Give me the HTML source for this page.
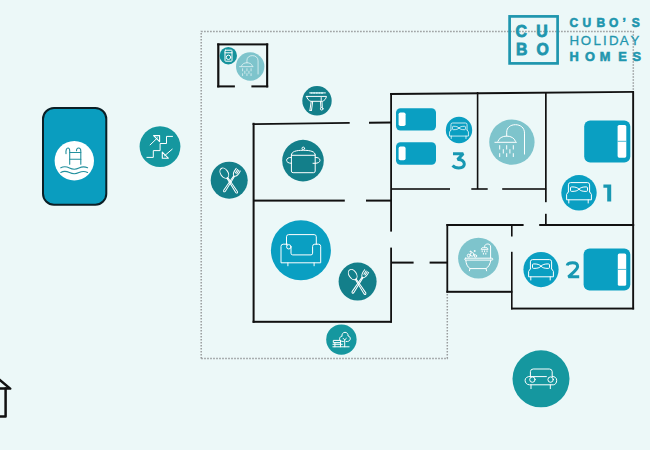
<!DOCTYPE html>
<html><head><meta charset="utf-8">
<style>
html,body{margin:0;padding:0;width:650px;height:450px;overflow:hidden;background:#ecf8f8;}
body{font-family:"Liberation Sans",sans-serif;position:relative;}
svg{position:absolute;left:0;top:0;}
.w{fill:#111;}
.ic{fill:none;stroke:#fff;stroke-width:1;stroke-linecap:round;stroke-linejoin:round;}
</style></head>
<body>
<svg width="650" height="450" viewBox="0 0 650 450">
 <defs>
 <g id="bedicon" class="ic" stroke-width="1">
  <path d="M-10.6 -0.8 V-7.8 Q-10.6 -10 -8.4 -10 H8.4 Q10.6 -10 10.6 -7.8 V-0.8"/>
  <path d="M0 -3.4 C-1.6 -5.2 -3.6 -5.7 -7.4 -5.7 Q-8.5 -5.7 -8.5 -4.6 V-2.3 Q-8.5 -1.2 -7.4 -1.2 C-3.6 -1.2 -1.6 -1.6 0 -3.4 Z"/>
  <path d="M0 -3.4 C1.6 -5.2 3.6 -5.7 7.4 -5.7 Q8.5 -5.7 8.5 -4.6 V-2.3 Q8.5 -1.2 7.4 -1.2 C3.6 -1.2 1.6 -1.6 0 -3.4 Z"/>
  <path d="M-10.6 -0.8 L-12.4 1.8 V7.2 H12.4 V1.8 L10.6 -0.8"/>
  <path d="M-10.2 7.2 V10.4 M9.2 7.2 V10.4"/>
 </g>
 <g id="shower" class="ic" stroke-width="1.1">
  <path d="M-5.2 -6 V-10 C-5.2 -14.5 -1.5 -17.4 3.5 -17.4 C8.5 -17.4 12.6 -14.5 12.6 -9 V12"/>
  <path d="M-14 -0.8 C-13 -4 -9.5 -6 -5.2 -6 C-0.9 -6 2.6 -4 3.6 -0.8"/>
  <path d="M-17 0.2 H4.5"/>
  <path d="M-12.2 3.5 V7 M-5.2 3.5 V7 M1.4 3.5 V7 M-8.6 7.5 V11 M-2 7.5 V11 M-12.2 11.5 V14.5 M-5.2 11.5 V14.5 M1.4 11.5 V14.5"/>
 </g>
 </defs>
 <!-- dotted outline -->
 <g fill="none" stroke="#9a9d9e" stroke-width="1.5" stroke-dasharray="1.6 1.4">
  <path d="M201.2 358.5 V31.4 H633.3 V92"/>
  <path d="M201.2 358.5 H447.3 V292"/>
 </g>

 <!-- walls -->
 <g class="w">
  <!-- small bathroom -->
  <rect x="217.2" y="43.4" width="51" height="2"/>
  <rect x="217.2" y="43.4" width="2.2" height="44"/>
  <rect x="266.1" y="43.4" width="2.1" height="44"/>
  <rect x="217.2" y="85.4" width="17.7" height="2"/>
  <rect x="251.4" y="85.4" width="16.8" height="2"/>
  <!-- kitchen block -->
  <polygon points="252.6,123.2 349.7,121.9 349.7,123.8 252.6,125.1"/>
  <polygon points="369,121.8 391.5,121.6 391.5,123.5 369,123.7"/>
  <rect x="252.6" y="122.8" width="2" height="200"/>
  <rect x="253" y="199.6" width="91.8" height="2"/>
  <rect x="366" y="199.6" width="25" height="2"/>
  <rect x="390.2" y="93" width="1.8" height="138.6"/>
  <rect x="390.2" y="247.6" width="1.8" height="75.1"/>
  <rect x="252.6" y="320.8" width="139.2" height="2"/>
  <!-- bedroom 3 / bath / bedroom 1 -->
  <polygon points="390.2,93 634,90.9 634,92.8 390.2,95"/>
  <rect x="476.8" y="92" width="1.6" height="97"/>
  <rect x="391" y="188.2" width="59" height="1.6"/>
  <rect x="471.3" y="188.2" width="16.4" height="1.6"/>
  <rect x="502.2" y="188.2" width="44" height="1.6"/>
  <rect x="545" y="92" width="1.7" height="110.2"/>
  <rect x="545" y="213.8" width="1.7" height="11.5"/>
  <rect x="632.2" y="91.6" width="1.9" height="217.8"/>
  <!-- bath 2 / bedroom 2 -->
  <rect x="446.4" y="224" width="77.2" height="2"/>
  <rect x="539.2" y="224" width="95" height="2"/>
  <rect x="446.4" y="224" width="1.8" height="68.6"/>
  <rect x="446.4" y="290.8" width="66" height="2"/>
  <rect x="511" y="224" width="1.6" height="12.5"/>
  <rect x="511" y="251.8" width="1.6" height="57.6"/>
  <rect x="511" y="307.6" width="123.1" height="1.9"/>
  <!-- living right -->
  <rect x="391" y="261.6" width="22.6" height="2"/>
  <rect x="429.6" y="261.6" width="17.6" height="2"/>
 </g>

 <!-- pool -->
 <rect x="43" y="108" width="63.3" height="96.7" rx="11" fill="#0a9dbf" stroke="#0b1f26" stroke-width="2"/>
 <circle cx="74.3" cy="160.8" r="19.7" fill="#fff"/>
 <g fill="none" stroke="#23909e" stroke-width="1.1" stroke-linecap="round">
  <path d="M66 153.6 C65.6 150 66.6 148 68 148 C69.2 148 69.7 149.2 69.7 151 V164.2"/>
  <path d="M76.5 150.8 C76.4 149 77.3 148 78.6 148 C80 148 80.8 149.2 80.8 151 V164.2"/>
  <path d="M69.7 152.5 H80.8 M69.7 159.2 H80.8"/>
  <path d="M60.8 167.8 C63.5 166.3 66.5 166.5 69.5 168 S76 169.5 79 168 S85 166.6 87.6 167.8"/>
  <path d="M60.8 172.4 C63.5 170.9 66.5 171.1 69.5 172.6 S76 174.1 79 172.6 S85 171.2 87.6 172.4"/>
 </g>

 <!-- stairs -->
 <circle cx="160" cy="146.6" r="20.4" fill="#15979f"/>
 <g class="ic" stroke-width="1.3">
  <path d="M146.9 157.4 H153.3 V150.6 H160.1 V143.5 H166.5 V136.4 H172.5"/>
  <path d="M150.1 144.9 L157.5 137.8"/>
  <path d="M153.6 135.6 H159.6 V141.6 Z" stroke-width="1.1"/>
  <path d="M172.2 149.2 L164.5 155.8"/>
  <path d="M162.3 152.2 V158.2 H168.3 Z" stroke-width="1.1"/>
 </g>

 <!-- small bathroom icons -->
 <circle cx="228.3" cy="55.7" r="8.7" fill="#15939c"/>
 <g class="ic" stroke-width="0.8">
  <rect x="225" y="50.2" width="7" height="11" rx="0.6"/>
  <path d="M225 52.8 H232"/>
  <circle cx="228.5" cy="57.3" r="2.2"/>
 </g>
 <circle cx="250.2" cy="66.5" r="14.2" fill="#7ec4cc"/>
 <use href="#shower" transform="translate(250.2 66.5) scale(0.625)"/>

 <!-- bbq -->
 <circle cx="317" cy="100.8" r="14.7" fill="#137f8a"/>
 <g class="ic" stroke-width="0.85" stroke="#c8f0f2">
  <path d="M309.6 92.9 H325.4"/>
  <g fill="#c8f0f2" stroke="none"><ellipse cx="311.6" cy="92.9" rx="1.15" ry="0.95"/><ellipse cx="314.2" cy="92.9" rx="1.15" ry="0.95"/><ellipse cx="316.8" cy="92.9" rx="1.15" ry="0.95"/><ellipse cx="319.4" cy="92.9" rx="1.15" ry="0.95"/><ellipse cx="322" cy="92.9" rx="1.15" ry="0.95"/></g>
  <path d="M306.6 96.4 H326.5 C325.8 99 324.5 100.6 322.5 101.3 H310.9 C308.7 100.6 307.3 99 306.6 96.4 Z"/>
  <path d="M311.2 101.4 L309.9 110.4 M312.7 101.4 L311.5 110.4 M309.9 110.4 H311.5"/>
  <path d="M320.5 101.4 L320.9 107.4 M322 101.4 L322.3 107.4"/>
  <circle cx="321.7" cy="108.8" r="1.3"/>
  <path d="M321.2 97.5 V100.5"/>
 </g>

 <!-- pot -->
 <circle cx="303" cy="160.6" r="20.8" fill="#137f8a"/>
 <g class="ic" stroke-width="1">
  <path d="M291.4 154.9 V171 Q291.4 172.7 293.1 172.7 H313.5 Q315.2 172.7 315.2 171 V154.9"/>
  <path d="M291.4 154.9 C291.4 151.5 296 150.3 303.3 150.3 C310.6 150.3 315.2 151.5 315.2 154.9 Z"/>
  <circle cx="303.3" cy="148.4" r="1.3"/>
  <path d="M291.4 157.3 C288.5 157.3 286.6 158.5 286.6 160.3 C286.6 162.1 288.5 163.3 291.4 163.3"/>
  <path d="M315.2 157.3 C318.1 157.3 320 158.5 320 160.3 C320 162.1 318.1 163.3 315.2 163.3 M313 163.3 H315.2"/>
 </g>

 <!-- fork spoon 1 -->
 <circle cx="229.2" cy="180.2" r="18.5" fill="#137f8a"/>
 <g class="ic" stroke-width="0.8" stroke="#c4eff1" id="fs">
  <g transform="translate(227.2 177.6) rotate(-33)">
   <ellipse cx="0" cy="-5.3" rx="3.7" ry="5.6"/>
   <path d="M-0.5 0.3 L-1 17.2 Q0 19.6 1 17.2 L0.5 0.3"/>
  </g>
  <g transform="translate(234 176.2) rotate(33)">
   <path d="M-2.4 -7.8 C-2.8 -4 -1.8 -0.6 0 0 C1.8 -0.6 2.8 -4 2.4 -7.8"/>
   <path d="M-0.6 -7.6 V-3.6 M0.9 -7.6 V-3.6"/>
   <path d="M-0.5 0 L-1 17.4 Q0 19.8 1 17.4 L0.5 0"/>
  </g>
 </g>
 <!-- fork spoon 2 -->
 <circle cx="357.6" cy="281.6" r="19" fill="#137f8a"/>
 <use href="#fs" transform="translate(128.4 101.4)"/>

 <!-- armchair -->
 <circle cx="300.9" cy="250.3" r="30" fill="#0a9fc2"/>
 <g class="ic" stroke-width="1">
  <path d="M286.5 245 V236.8 Q286.5 234.6 288.7 234.6 H314.1 Q316.3 234.6 316.3 236.8 V244.2"/>
  <path d="M291 247 V253.2 Q291 254.9 292.7 254.9 H311 Q312.6 254.9 312.6 253.2 V246.4 Q312.6 244.2 314.8 244.2 H318.5 Q320.7 244.2 320.7 246.4 V262.8 H281 V246.4 Q281 244.2 283.2 244.2 H287.5"/>
  <circle cx="288.8" cy="246.8" r="2.2"/>
  <path d="M287.9 262.8 V265.8 M314.1 262.8 V265.8"/>
 </g>

 <!-- bedroom 3 -->
 <rect x="396" y="108.2" width="40" height="22.4" rx="4.5" fill="#0a9fc2"/>
 <rect x="398.6" y="112.4" width="7" height="13.7" rx="1.8" fill="#fff"/>
 <rect x="396" y="142.3" width="40" height="22.4" rx="4.5" fill="#0a9fc2"/>
 <rect x="398.6" y="146.6" width="7" height="13.7" rx="1.8" fill="#fff"/>
 <circle cx="459" cy="130" r="13.2" fill="#0a9fc2"/>

 <!-- shower -->
 <circle cx="511.9" cy="142.1" r="22.7" fill="#7ec4cc"/>
 <use href="#shower" transform="translate(511.9 142.1)"/>

 <!-- bedroom 1 -->
 <rect x="584.2" y="120.5" width="46.1" height="41.9" rx="6" fill="#0a9fc2"/>
 <rect x="617.6" y="124.9" width="8.7" height="32.8" rx="1.6" fill="#fff"/>
 <rect x="617.6" y="140.8" width="8.7" height="1" fill="#0a9fc2" opacity="0.7"/>
 <circle cx="579" cy="192.8" r="17.7" fill="#0a9fc2"/>

 <!-- bath 2 -->
 <circle cx="478.5" cy="258.2" r="20.4" fill="#7ec4cc"/>
 <g class="ic" stroke-width="0.8">
  <rect x="464.7" y="258.2" width="28.1" height="1.9" rx="0.9"/>
  <path d="M465.8 260.1 C466 264 467.5 267 470 268.6 H486 C488.5 267 490.4 264 490.8 260.1"/>
  <path d="M470 268.6 L469.4 270.8 M486 268.6 L486.6 270.8"/>
  <path d="M490.6 258.2 V247 C490.6 245 489.4 244 487.8 244 C486 244 484.6 245 484.6 246.6 V247.4"/>
  <path d="M481.2 248.9 C481.4 247.9 482.8 247.3 484.6 247.3 C486.4 247.3 487.8 247.9 488 248.9 Z"/>
  <path d="M482.2 250.8 V251.8 M484.6 250.8 V251.8 M487 250.8 V251.8 M483.4 253.2 V254.2 M485.8 253.2 V254.2"/>
  <circle cx="468.8" cy="255.6" r="1.5"/><circle cx="472.2" cy="254.4" r="1.8"/><circle cx="475.4" cy="256" r="1.2"/>
  <circle cx="470.5" cy="251.5" r="0.5"/><circle cx="474.5" cy="251" r="0.5"/>
 </g>

 <!-- bedroom 2 -->
 <rect x="583.6" y="248.6" width="46.7" height="42" rx="6" fill="#0a9fc2"/>
 <rect x="617.8" y="253.4" width="8.4" height="32.4" rx="1.6" fill="#fff"/>
 <rect x="617.8" y="268.9" width="8.4" height="1" fill="#0a9fc2" opacity="0.7"/>
 <circle cx="541" cy="269.6" r="17.6" fill="#0a9fc2"/>

 <use href="#bedicon" transform="translate(459 130.6) scale(0.76)"/>
 <use href="#bedicon" transform="translate(579 192.6)"/>
 <use href="#bedicon" transform="translate(541 269.6)"/>

 <!-- garden -->
 <circle cx="341.4" cy="339.6" r="15.2" fill="#15979f"/>
 <g class="ic" stroke-width="0.85" stroke="#d8f6f7">
  <path d="M343.4 341.5 C341 341.6 339.3 340.4 339.6 338.6 C339.8 337 341 336.2 342 336.4 C341.6 334.2 343 332.3 345 332.3 C347 332.3 348.3 334 348 336 C349.6 336.2 350.6 337.6 350.2 339.3 C349.8 341 348.3 341.7 346.2 341.5"/>
  <path d="M343.2 338.4 L344.7 339.9 L346.3 338.4 M344.7 339.9 V346.8"/>
  <rect x="333.7" y="340.4" width="6.8" height="2.2"/>
  <path d="M332.9 344.3 H342.3 M334.9 342.6 V346.8 M340.5 342.6 V346.8"/>
  <path d="M332.9 346.8 H349.1"/>
 </g>

 <!-- car -->
 <circle cx="541" cy="378.8" r="28.5" fill="#15979f"/>
 <g class="ic" stroke-width="1" stroke="#d8f6f7">
  <path d="M530.4 376.4 V371.6 Q530.6 369 533.2 369 H549.4 Q552 369 552.2 371.6 V376.4"/>
  <path d="M531 376.6 H546.4"/>
  <path d="M530.4 376.4 C527 376.4 525.1 378 525.1 380.3 C525.1 382.7 526.8 384.8 529.5 384.8 H553.4 C555.4 384.8 556.7 382.7 556.7 380.3 C556.7 378 555 376.4 552.2 376.4"/>
  <circle cx="532.4" cy="379.6" r="2.7"/>
  <circle cx="550.6" cy="379.6" r="2.7"/>
  <path d="M531 384.8 V388.6 M550.3 384.8 V388.6"/>
 </g>

 <!-- house -->
 <g fill="none" stroke="#111" stroke-width="2.5" stroke-linejoin="round" stroke-linecap="round">
  <path d="M-2 378.6 L10.2 388.6 H-2"/>
  <path d="M5.6 388.6 V416.6 H-2"/>
 </g>


 <!-- digits -->
 <g fill="none" stroke="#1898b2" stroke-width="3" stroke-linejoin="miter">
  <path d="M453 153.7 H463.2 L457.6 159.6 C462 159.4 464.3 161.3 464.3 164.1 C464.3 166.8 462.2 168 458.8 168 C456.2 168 454 167.2 452.6 165.6" stroke-linejoin="bevel"/>
  <path d="M567.2 265.6 C567.6 263.2 569.6 262.8 572.6 262.8 C575.6 262.8 577.6 264.2 577.6 266.6 C577.6 268.6 576.2 269.8 574.2 271.6 L568.4 276.8 H579.2" stroke-linejoin="bevel"/>
 </g>
 <path d="M603.4 184.6 H611.2 V201.6 H607.2 V187.8 H603.4 Z" fill="#1898b2"/>
 <!-- logo -->
 <rect x="509.6" y="16.4" width="48" height="47" fill="none" stroke="#1f96ae" stroke-width="2.7"/>

 <g fill="#1f96ae" stroke="#1f96ae" font-family="Liberation Sans" font-weight="bold">
  <text font-size="15.8" stroke-width="0.8" x="515.6 536.3" y="36.6">CU</text>
  <text font-size="15.8" stroke-width="0.8" x="516 536.6" y="54.6">BO</text>
  <text font-size="12" stroke-width="0.6" x="569.6 582.4 596.6 609 622.6 631.8" y="26.9">CUBO’S</text>
  <text font-size="12.8" stroke-width="0.6" x="569.6 585 599.8 618.2 632.4" y="61.1">HOMES</text>
 </g>
 <text fill="#1f96ae" stroke="#1f96ae" stroke-width="0.3" font-family="Liberation Sans" font-size="13.3" x="569.6 580.8 593.6 603 609 619.8 630.5" y="44.9">HOLIDAY</text>
</svg>


</body></html>
